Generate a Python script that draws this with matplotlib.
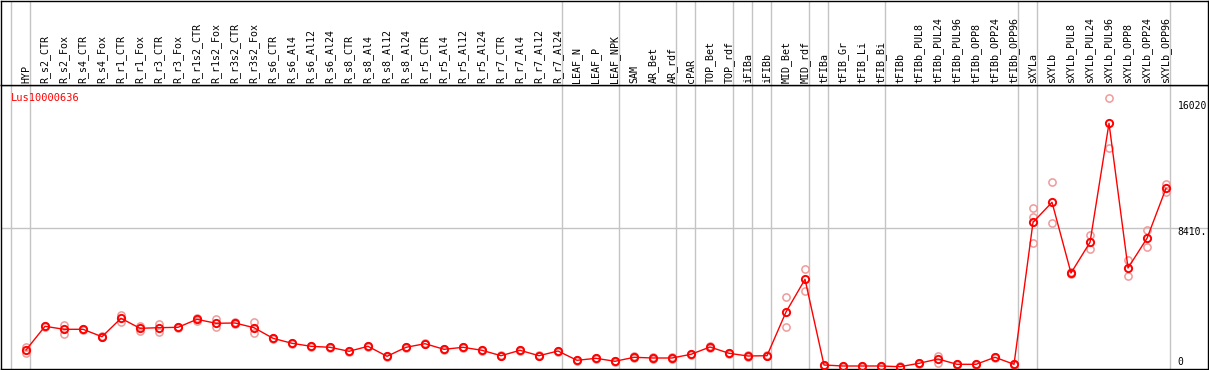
import matplotlib
matplotlib.use('Agg')
import matplotlib.pyplot as plt

# 样本名称
labels = ['HYP', 'R_s2_CTR', 'R_s2_Fox', 'R_s4_CTR', 'R_s4_Fox', 'R_r1_CTR', 'R_r1_Fox',
          'R_r3_CTR', 'R_r3_Fox', 'R_r1s2_CTR', 'R_r1s2_Fox', 'R_r3s2_CTR', 'R_r3s2_Fox',
          'R_s6_CTR', 'R_s6_Al4', 'R_s6_Al12', 'R_s6_Al24', 'R_s8_CTR', 'R_s8_Al4',
          'R_s8_Al12', 'R_s8_Al24', 'R_r5_CTR', 'R_r5_Al4', 'R_r5_Al12', 'R_r5_Al24',
          'R_r7_CTR', 'R_r7_Al4', 'R_r7_Al12', 'R_r7_Al24', 'LEAF_N', 'LEAF_P', 'LEAF_NPK',
          'SAM', 'AR_Bet', 'AR_rdf', 'cPAR', 'TOP_Bet', 'TOP_rdf', 'iFIBa', 'iFIBb',
          'MID_Bet', 'MID_rdf', 'tFIBa', 'tFIB_Gr', 'tFIB_Li', 'tFIB_Bi', 'tFIBb',
          'tFIBb_PUL8', 'tFIBb_PUL24', 'tFIBb_PUL96', 'tFIBb_OPP8', 'tFIBb_OPP24',
          'tFIBb_OPP96', 'sXYLa', 'sXYLb', 'sXYLb_PUL8', 'sXYLb_PUL24', 'sXYLb_PUL96',
          'sXYLb_OPP8', 'sXYLb_OPP24', 'sXYLb_OPP96']

# 平均值
means = [1031, 2468, 2286, 2286, 1837, 2953, 2346, 2383, 2407, 2892, 2650, 2668, 2383,
         1740, 1437, 1255, 1194, 952, 1255, 649, 1194, 1413, 1073, 1194, 1013,
         685, 1013, 685, 970, 406, 527, 346,
         588, 546, 546, 770, 1213, 831, 667, 685,
         3335, 5317, 121, 61, 61, 61, 18,
         224, 485, 164, 164, 588, 164,
         8773, 9986, 5699, 7561, 14775, 6002, 7803, 10835]

# 重复样本
reps = [[1213, 849], [2500, 2430], [2528, 2019], [2320, 2250], [1870, 1800],
        [3153, 2728], [2486, 2183], [2625, 2140], [2440, 2370], [3001, 2789],
        [2910, 2425], [2700, 2630], [2728, 2043], [1770, 1710], [1470, 1400],
        [1290, 1220], [1230, 1160], [990, 920], [1290, 1220], [680, 620],
        [1230, 1160], [1450, 1380], [1110, 1040], [1230, 1160], [1050, 980],
        [720, 650], [1050, 980], [720, 650], [1000, 940], [440, 370],
        [560, 490], [380, 310], [640, 540], [620, 480], [600, 500],
        [810, 730], [1260, 1160], [870, 790], [700, 630], [720, 650],
        [4226, 2407], [5924, 4626], [150, 90], [90, 30], [90, 30],
        [90, 30], [50, 0], [260, 190], [667, 224], [200, 130],
        [200, 130], [620, 550], [200, 130], [9622, 9076, 7536], [11198, 8749],
        [5740, 5650], [8003, 7173], [16291, 13260], [6487, 5536], [8288, 7257],
        [11113, 10610]]

# 分组分隔线位置
group_edges = [-1, 0, 28, 31, 34, 35, 37, 38, 39, 41, 42, 45, 52, 53, 60]
hline_val = 8410

W, H = 1209, 370
fig = plt.figure(figsize=(W / 100, H / 100), dpi=100)

ax = fig.add_axes([1 / W, 1 / H, 1207 / W, 284 / H])
ax_top = fig.add_axes([1 / W, 285 / H, 1207 / W, 84 / H], sharex=ax)

xs = list(range(len(labels)))
ax.set_xlim(-1.316, 62.21)
ax.set_ylim(-121, 17098)
ax_top.set_ylim(0, 1)

grey = '#c4c4c4'
for e in group_edges:
    ax.axvline(e + 0.23, color=grey, lw=1.0, zorder=0)
    ax_top.axvline(e + 0.23, color=grey, lw=1.0, zorder=0)
ax.axhline(hline_val, color=grey, lw=1.0, zorder=0)

# 重复样本（浅红色）
for i, r in enumerate(reps):
    ax.plot([i] * len(r), r, 'o', mfc='none', mec='#f09a9a', ms=5.2, mew=1.1, zorder=2)

# 平均值折线
ax.plot(xs, means, '-', color='red', lw=1.0, zorder=3)
ax.plot(xs, means, 'o', mfc='none', mec='red', ms=5.2, mew=1.4, zorder=4)

mono = 'DejaVu Sans Mono'
for i, lab in enumerate(labels):
    ax_top.text(i, 0.025, lab, rotation=90, ha='center', va='bottom',
                fontsize=7.2, family=mono, color='black')

ax.text(0.008, 0.955, 'Lus10000636', transform=ax.transAxes, color='red',
        fontsize=7.5, family=mono, va='center', ha='left')

# 右侧刻度标注
for val, txt, dy in [(16020, '16020', -3), (hline_val, '8410.', -4), (0, '0', 5)]:
    ax.annotate(txt, (60.6, val), xytext=(0, dy), textcoords='offset pixels',
                fontsize=7.0, family=mono, va='center', ha='left', color='black')

for a in (ax, ax_top):
    a.set_xticks([])
    a.set_yticks([])
    for s in a.spines.values():
        s.set_color('black')
        s.set_linewidth(1.0)

fig.savefig('out.png', dpi=100)
